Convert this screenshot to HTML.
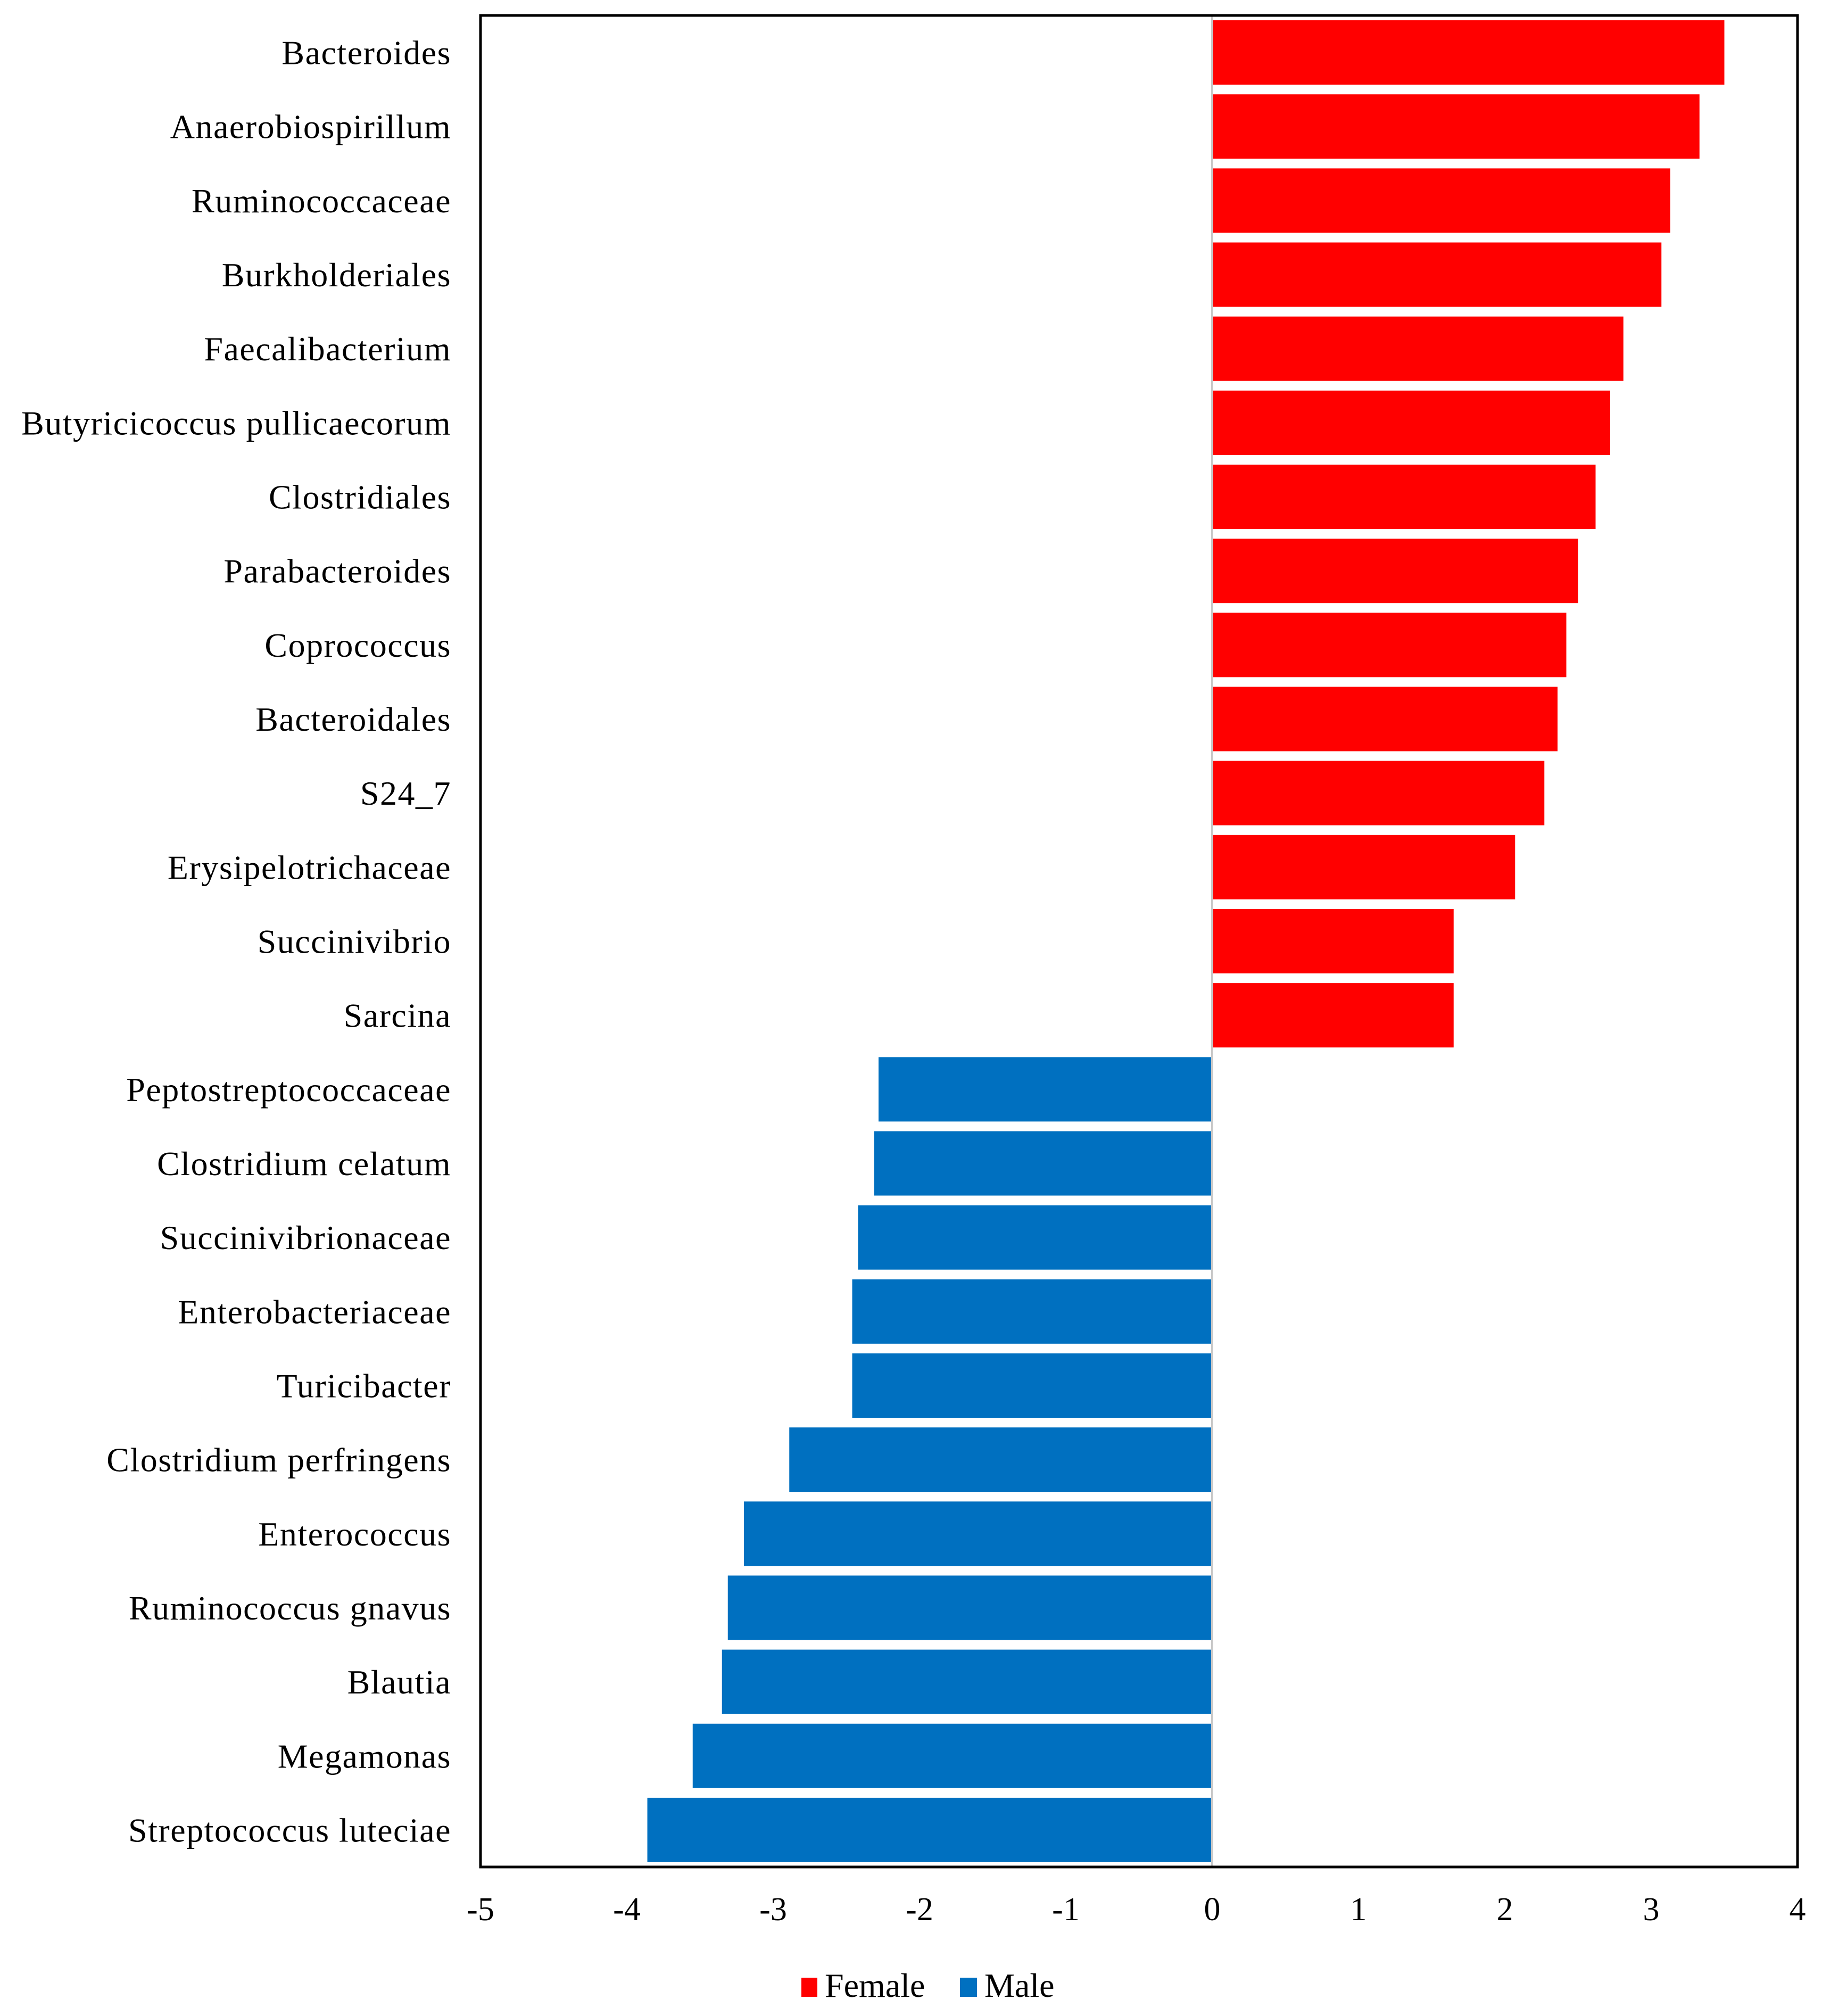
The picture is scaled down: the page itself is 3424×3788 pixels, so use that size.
<!DOCTYPE html>
<html><head><meta charset="utf-8"><style>
html,body{margin:0;padding:0;background:#fff;}
svg{display:block;font-family:"Liberation Serif",serif;}
</style></head><body>
<svg id="chart" width="3424" height="3788" viewBox="0 0 3424 3788" xmlns="http://www.w3.org/2000/svg">
<rect x="0" y="0" width="3424" height="3788" fill="#fff"/>
<g id="bars"></g>
<g id="labels"></g>
<line id="zero" stroke="#c8c8c8" stroke-width="4"/>
<rect id="frame" fill="none" stroke="#000" stroke-width="5"/>
<g id="ticks"></g>
<g>
  <rect x="1506" y="3716" width="30" height="36" fill="#ff0000"/>
  <text x="1550" y="3752" font-size="64">Female</text>
  <rect x="1804" y="3716" width="32" height="36" fill="#0070c0"/>
  <text x="1850" y="3752" font-size="64">Male</text>
</g>
</svg>
<script>
const categories = ["Bacteroides","Anaerobiospirillum","Ruminococcaceae","Burkholderiales","Faecalibacterium","Butyricicoccus pullicaecorum","Clostridiales","Parabacteroides","Coprococcus","Bacteroidales","S24_7","Erysipelotrichaceae","Succinivibrio","Sarcina","Peptostreptococcaceae","Clostridium celatum","Succinivibrionaceae","Enterobacteriaceae","Turicibacter","Clostridium perfringens","Enterococcus","Ruminococcus gnavus","Blautia","Megamonas","Streptococcus luteciae"];
const values = [3.50,3.33,3.13,3.07,2.81,2.72,2.62,2.50,2.42,2.36,2.27,2.07,1.65,1.65,-2.28,-2.31,-2.42,-2.46,-2.46,-2.89,-3.20,-3.31,-3.35,-3.55,-3.86];
const tickValues = [-5,-4,-3,-2,-1,0,1,2,3,4];
const tickLabels = ["-5","-4","-3","-2","-1","0","1","2","3","4"];
const xMin = -5, xMax = 4;

const NS = "http://www.w3.org/2000/svg";
const L = 903, R = 3378, T = 29, B = 3508;
const xs = v => L + (v - xMin) / (xMax - xMin) * (R - L);
const pitch = (B - T) / categories.length;
const yc = i => T + pitch * (i + 0.5);
const barH = 121;

const bars = document.getElementById('bars');
const labels = document.getElementById('labels');
categories.forEach((c, i) => {
  const v = values[i];
  const x0 = xs(0), x1 = xs(v);
  const r = document.createElementNS(NS, 'rect');
  r.setAttribute('x', Math.min(x0, x1));
  r.setAttribute('y', yc(i) - barH / 2);
  r.setAttribute('width', Math.abs(x1 - x0));
  r.setAttribute('height', barH);
  r.setAttribute('fill', v >= 0 ? '#ff0000' : '#0070c0');
  
  
  bars.appendChild(r);
  const t = document.createElementNS(NS, 'text');
  t.setAttribute('x', 848);
  t.setAttribute('y', yc(i) + 22);
  t.setAttribute('text-anchor', 'end');
  t.setAttribute('font-size', '64');
  t.setAttribute('letter-spacing', '1.5');
  t.textContent = c;
  
  
  labels.appendChild(t);
});
const z = document.getElementById('zero');
z.setAttribute('x1', xs(0)); z.setAttribute('x2', xs(0));
z.setAttribute('y1', T); z.setAttribute('y2', B);
const f = document.getElementById('frame');
f.setAttribute('x', L); f.setAttribute('y', T);
f.setAttribute('width', R - L); f.setAttribute('height', B - T);
const ticks = document.getElementById('ticks');
tickValues.forEach((v, i) => {
  const t = document.createElementNS(NS, 'text');
  t.setAttribute('x', xs(v));
  t.setAttribute('y', 3608);
  t.setAttribute('text-anchor', 'middle');
  t.setAttribute('font-size', '62');
  t.textContent = tickLabels[i];
  
  
  ticks.appendChild(t);
});
</script>
</body></html>
